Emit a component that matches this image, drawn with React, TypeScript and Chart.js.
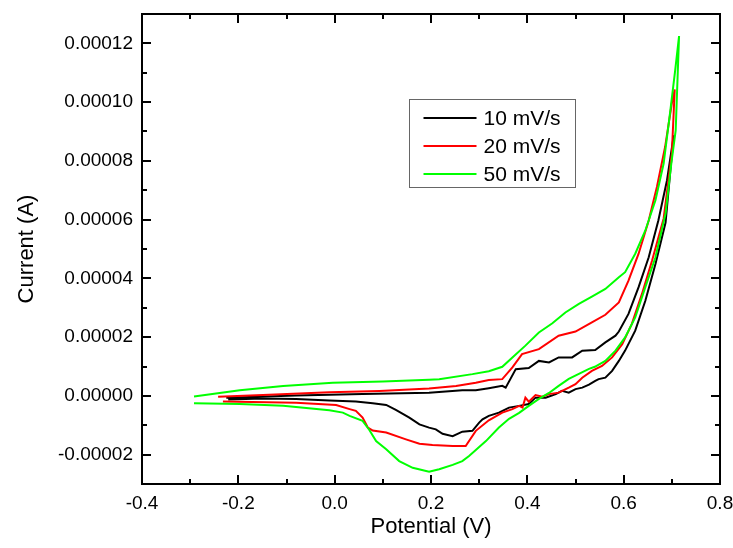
import React, { useEffect, useRef } from 'react';
import { Chart, registerables } from 'chart.js';

Chart.register(...registerables);

// ---- data (potential in V, current in µA) ----
const seriesLabels = ['10 mV/s', '20 mV/s', '50 mV/s'];
const seriesColors = ['#000000', '#ff0000', '#00ff00'];

const pot10 = [-0.225, -0.080, 0.058, 0.196, 0.265, 0.293, 0.320, 0.348, 0.355, 0.376, 0.403, 0.424, 0.445, 0.465, 0.493, 0.514, 0.541, 0.562, 0.583, 0.590, 0.610, 0.631, 0.652, 0.672, 0.690, 0.704,
  0.697, 0.687, 0.666, 0.645, 0.624, 0.603, 0.590, 0.576, 0.562, 0.548, 0.541, 0.528, 0.514, 0.500, 0.486, 0.472, 0.459, 0.438, 0.417, 0.403, 0.383, 0.362, 0.341, 0.320, 0.307, 0.300, 0.286, 0.265, 0.245, 0.224, 0.210, 0.196, 0.176, 0.155, 0.127, 0.107, 0.079, 0.044, -0.011, -0.080, -0.149, -0.221];
const cur10 = [-0.6, 0.1, 0.6, 1.1, 1.9, 1.9, 2.6, 3.4, 2.8, 9.1, 9.5, 11.9, 11.4, 13.1, 13.1, 15.4, 15.6, 18.2, 20.5, 21.9, 27.9, 37.0, 47.2, 59.7, 73.4, 88.7,
  76.8, 59.0, 44.9, 32.4, 22.2, 15.4, 11.9, 8.5, 6.2, 5.7, 5.1, 3.8, 2.8, 2.3, 1.1, 1.7, 0.6, -0.6, -0.6, -2.8, -3.4, -4.0, -5.7, -6.8, -8.0, -9.1, -11.9, -12.2, -13.7, -12.9, -11.4, -10.8, -9.7, -7.4, -4.8, -3.1, -2.5, -1.9, -1.6, -1.1, -0.9, -1.2];

const pot20 = [-0.242, -0.149, -0.011, 0.093, 0.196, 0.252, 0.293, 0.320, 0.348, 0.369, 0.389, 0.424, 0.465, 0.500, 0.534, 0.562, 0.590, 0.610, 0.631, 0.652, 0.669, 0.686, 0.700, 0.706,
  0.700, 0.683, 0.659, 0.638, 0.617, 0.597, 0.576, 0.555, 0.534, 0.514, 0.500, 0.486, 0.465, 0.445, 0.431, 0.417, 0.403, 0.396, 0.390, 0.383, 0.369, 0.348, 0.320, 0.293, 0.272, 0.245, 0.203, 0.176, 0.148, 0.107, 0.079, 0.069, 0.058, 0.044, 0.031, 0.003, -0.080, -0.232];
const cur20 = [-0.3, 0.3, 1.2, 1.7, 2.5, 3.4, 4.5, 5.4, 5.7, 9.7, 14.2, 15.9, 20.5, 21.9, 25.0, 27.6, 31.8, 39.2, 48.4, 59.7, 71.1, 84.7, 99.6, 104.3,
  82.5, 60.4, 46.1, 34.7, 24.5, 17.6, 13.1, 10.2, 8.5, 6.2, 4.0, 2.8, 1.1, 0.6, -0.3, 0.3, -2.0, -0.6, -4.0, -3.4, -4.5, -5.7, -8.3, -11.9, -17.1, -17.1, -16.7, -16.3, -14.8, -12.5, -11.8, -10.8, -7.4, -5.1, -4.5, -3.1, -2.3, -1.9];

const pot50 = [-0.292, -0.197, -0.107, -0.004, 0.100, 0.196, 0.217, 0.286, 0.320, 0.348, 0.369, 0.396, 0.424, 0.452, 0.479, 0.507, 0.534, 0.562, 0.590, 0.603, 0.624, 0.645, 0.666, 0.683, 0.697, 0.707, 0.715,
  0.708, 0.699, 0.687, 0.666, 0.645, 0.624, 0.603, 0.583, 0.562, 0.540, 0.528, 0.507, 0.486, 0.465, 0.445, 0.424, 0.403, 0.383, 0.362, 0.341, 0.314, 0.279, 0.265, 0.245, 0.217, 0.196, 0.162, 0.134, 0.107, 0.086, 0.072, 0.058, 0.031, 0.017, -0.011, -0.107, -0.197, -0.292];
const cur50 = [-0.2, 1.9, 3.4, 4.5, 4.9, 5.5, 5.7, 7.4, 8.4, 9.9, 13.1, 17.1, 21.6, 24.7, 28.4, 31.3, 33.8, 36.4, 40.4, 42.1, 48.4, 56.3, 66.6, 79.1, 97.3, 110.9, 122.5,
  90.4, 79.2, 62.1, 47.2, 37.0, 26.7, 19.9, 15.4, 11.9, 9.9, 9.2, 7.5, 5.8, 3.4, 1.0, -1.0, -3.4, -5.8, -7.8, -10.8, -15.4, -20.5, -22.2, -23.5, -25.0, -25.8, -24.5, -22.2, -18.2, -15.4, -11.6, -8.5, -6.8, -5.7, -4.9, -3.4, -2.8, -2.5];

const xMajorTicks = [-0.4, -0.2, 0, 0.2, 0.4, 0.6, 0.8];
const xMinorTicks = [-0.3, -0.1, 0.1, 0.3, 0.5, 0.7];
const yMajorTicks = [-0.00002, 0, 0.00002, 0.00004, 0.00006, 0.00008, 0.0001, 0.00012];
const yMinorTicks = [-0.00003, -0.00001, 0.00001, 0.00003, 0.00005, 0.00007, 0.00009, 0.00011, 0.00013];

const FONT = '"Liberation Sans", Arial, Helvetica, sans-serif';

const toPoints = (pot: number[], cur: number[]) => pot.map((x, i) => ({ x, y: cur[i] * 1e-6 }));

const framePlugin = {
  id: 'frameTicks',
  afterDatasetsDraw(chart: any) {
    const { ctx, chartArea: a, scales } = chart;
    const xs = scales.x, ys = scales.y;
    ctx.save();
    ctx.strokeStyle = '#000';
    ctx.lineWidth = 2;
    ctx.beginPath();
    const xt = (vals: number[], len: number) => {
      vals.forEach((v) => {
        const p = Math.round(xs.getPixelForValue(v));
        ctx.moveTo(p, a.bottom); ctx.lineTo(p, a.bottom - len);
        ctx.moveTo(p, a.top); ctx.lineTo(p, a.top + len);
      });
    };
    const yt = (vals: number[], len: number) => {
      vals.forEach((v) => {
        const p = Math.round(ys.getPixelForValue(v));
        ctx.moveTo(a.left, p); ctx.lineTo(a.left + len, p);
        ctx.moveTo(a.right, p); ctx.lineTo(a.right - len, p);
      });
    };
    xt(xMajorTicks, 9); xt(xMinorTicks, 5);
    yt(yMajorTicks, 9); yt(yMinorTicks, 5);
    ctx.stroke();
    ctx.strokeRect(a.left, a.top, a.right - a.left, a.bottom - a.top);
    ctx.restore();
  },
};

const legendPlugin = {
  id: 'boxLegend',
  afterDraw(chart: any) {
    const { ctx, chartArea: a } = chart;
    const bx = a.left + 267.5, by = a.top + 85.5, bw = 166, bh = 88;
    ctx.save();
    ctx.fillStyle = '#fff';
    ctx.fillRect(bx, by, bw, bh);
    ctx.strokeStyle = '#666';
    ctx.lineWidth = 1;
    ctx.strokeRect(bx, by, bw, bh);
    ctx.font = `21px ${FONT}`;
    ctx.textBaseline = 'middle';
    ctx.textAlign = 'left';
    seriesLabels.forEach((lab, i) => {
      const ry = by + 18.5 + i * 28;
      ctx.strokeStyle = seriesColors[i];
      ctx.lineWidth = 2;
      ctx.beginPath();
      ctx.moveTo(bx + 14, ry); ctx.lineTo(bx + 67, ry);
      ctx.stroke();
      ctx.fillStyle = '#000';
      ctx.fillText(lab, bx + 74, ry + 1);
    });
    ctx.restore();
  },
};

export default function App() {
  const ref = useRef<HTMLCanvasElement>(null);
  useEffect(() => {
    if (!ref.current) return;
    const seriesData = [toPoints(pot10, cur10), toPoints(pot20, cur20), toPoints(pot50, cur50)];
    const chart = new Chart(ref.current, {
      type: 'scatter',
      data: {
        datasets: seriesLabels.map((label, i) => ({
          label,
          data: seriesData[i],
          showLine: true,
          borderColor: seriesColors[i],
          backgroundColor: seriesColors[i],
          borderWidth: 2,
          pointRadius: 0,
          tension: 0,
          order: 3 - i,
        })),
      },
      options: {
        animation: false,
        responsive: false,
        layout: { padding: { left: 0, right: 13, top: 14, bottom: 0 } },
        plugins: { legend: { display: false }, tooltip: { enabled: false } },
        scales: {
          x: {
            type: 'linear',
            min: -0.4,
            max: 0.8,
            afterBuildTicks: (s: any) => { s.ticks = xMajorTicks.map((value) => ({ value })); },
            afterFit: (s: any) => { s.height = 64; s.paddingLeft = 0; s.paddingRight = 0; },
            grid: { display: false, drawTicks: false },
            border: { display: false },
            ticks: {
              autoSkip: false,
              maxRotation: 0,
              padding: 8,
              color: '#000',
              font: { size: 19, family: FONT },
              callback: (v: any) => Number(v).toFixed(1),
            },
            title: {
              display: true,
              text: 'Potential (V)',
              color: '#000',
              font: { size: 22, family: FONT },
              padding: { top: 0, bottom: 8 },
            },
          },
          y: {
            type: 'linear',
            min: -0.00003,
            max: 0.00013,
            afterBuildTicks: (s: any) => { s.ticks = yMajorTicks.map((value) => ({ value })); },
            afterFit: (s: any) => { s.width = 142; s.paddingTop = 0; s.paddingBottom = 0; },
            grid: { display: false, drawTicks: false },
            border: { display: false },
            ticks: {
              autoSkip: false,
              padding: 9,
              color: '#000',
              font: { size: 19, family: FONT },
              callback: (v: any) => Number(v).toFixed(5),
            },
            title: {
              display: true,
              text: 'Current (A)',
              color: '#000',
              font: { size: 22, family: FONT },
              padding: { top: 14, bottom: 0 },
            },
          },
        },
      } as any,
      plugins: [framePlugin, legendPlugin],
    });
    return () => chart.destroy();
  }, []);
  return (
    <div style={{ position: 'fixed', left: 0, top: 0, width: 733, height: 548, background: '#fff' }}>
      <canvas ref={ref} width={733} height={548} style={{ display: 'block' }} />
    </div>
  );
}
